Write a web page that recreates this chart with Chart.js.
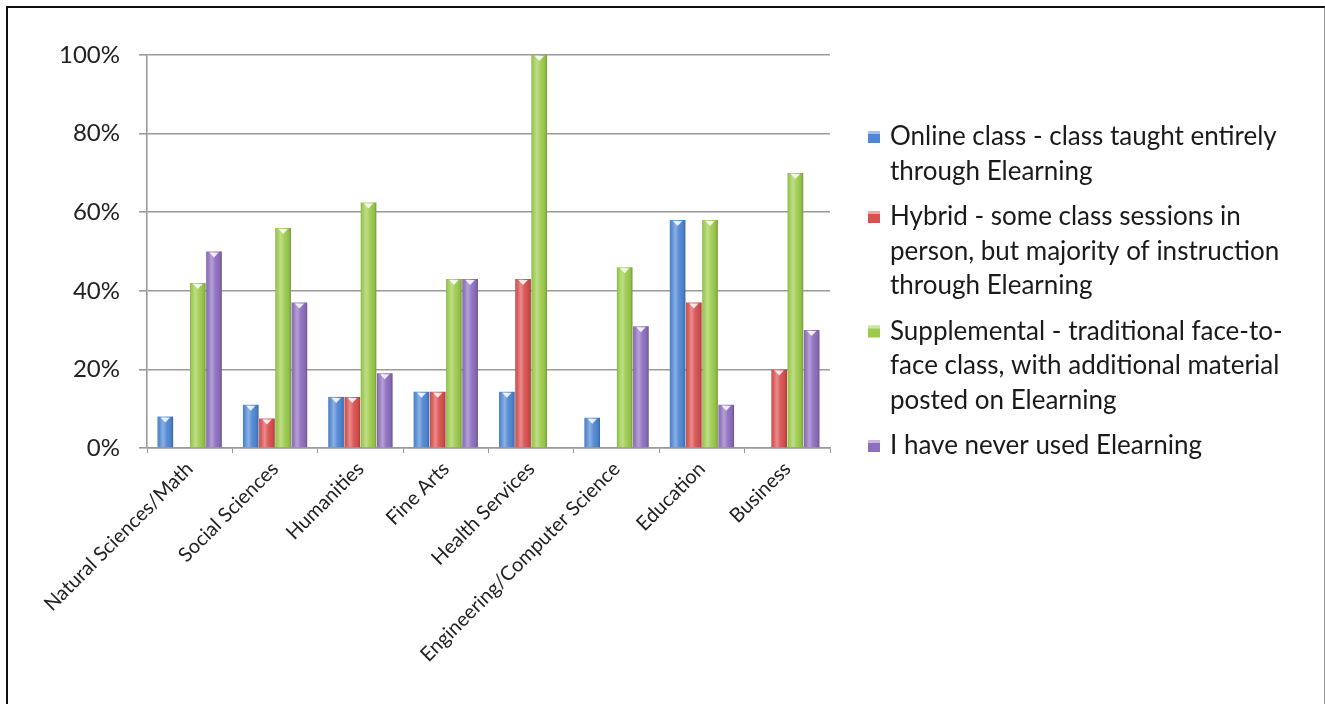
<!DOCTYPE html>
<html>
<head>
<meta charset="utf-8">
<script src="https://cdn.jsdelivr.net/npm/chart.js@4.4.1/dist/chart.umd.min.js"></script>
<style>
  html, body { margin: 0; padding: 0; background: #fff; overflow: hidden; }
  #frame {
    position: absolute; left: 6px; top: 6px; width: 1316px; height: 720px;
    border-left: 2px solid #111; border-top: 2px solid #111; border-right: 2px solid #999;
  }
  #wrap { position: absolute; left: 0; top: 0; width: 1325px; height: 704px; }
</style>
</head>
<body>
<div id="frame"></div>
<div id="wrap"><canvas id="chart"></canvas></div>
<script>
// categorias del eje x
const categories = ['Natural Sciences/Math', 'Social Sciences', 'Humanities', 'Fine Arts',
  'Health Services', 'Engineering/Computer Science', 'Education', 'Business'];

// porcentajes
const online = [8, 11, 13, 14.3, 14.3, 7.7, 58, 0];
const hybrid = [0, 7.5, 13, 14.3, 43, 0, 37, 20];
const supplemental = [42, 56, 62.5, 43, 100, 46, 58, 70];
const neverUsed = [50, 37, 19, 43, 0, 31, 11, 30];

// textos de la leyenda (ya partidos en lineas)
const legendOnline = ['Online class - class taught entirely', 'through Elearning'];
const legendHybrid = ['Hybrid - some class sessions in', 'person, but majority of instruction', 'through Elearning'];
const legendSupp = ['Supplemental - traditional face-to-', 'face class, with additional material', 'posted on Elearning'];
const legendNever = ['I have never used Elearning'];

const yTicks = [0, 20, 40, 60, 80, 100];

const FONT = 'Lato, "Open Sans", sans-serif';

// brillo tipo 3d encima de cada barra
const glossPlugin = {
  id: 'gloss',
  afterDatasetsDraw(chart) {
    const ctx = chart.ctx;
    chart.data.datasets.forEach((ds, i) => {
      const meta = chart.getDatasetMeta(i);
      meta.data.forEach(bar => {
        const h = bar.base - bar.y;
        if (h < 1) return;
        const left = bar.x - bar.width / 2;
        const g = ctx.createLinearGradient(left, 0, left + bar.width, 0);
        g.addColorStop(0, 'rgba(0,0,0,0.18)');
        g.addColorStop(0.12, 'rgba(255,255,255,0.05)');
        g.addColorStop(0.35, 'rgba(255,255,255,0.35)');
        g.addColorStop(0.6, 'rgba(255,255,255,0.05)');
        g.addColorStop(0.88, 'rgba(0,0,0,0.08)');
        g.addColorStop(1, 'rgba(0,0,0,0.25)');
        ctx.save();
        ctx.fillStyle = g;
        ctx.fillRect(left, bar.y, bar.width, h);
        // triangulito blanco arriba
        ctx.fillStyle = 'rgba(255,255,255,0.85)';
        ctx.beginPath();
        ctx.moveTo(bar.x - bar.width * 0.3, bar.y + 1);
        ctx.lineTo(bar.x + bar.width * 0.3, bar.y + 1);
        ctx.lineTo(bar.x, bar.y + Math.min(6, h));
        ctx.closePath();
        ctx.fill();
        ctx.restore();
      });
    });
  }
};

// leyenda a la derecha con texto en varias lineas
const sideLegend = {
  id: 'sideLegend',
  afterDraw(chart) {
    const ctx = chart.ctx;
    const items = [
      { color: '#4f87d4', lines: legendOnline },
      { color: '#d9504f', lines: legendHybrid },
      { color: '#9ccb4c', lines: legendSupp },
      { color: '#8e6fbf', lines: legendNever }
    ];
    let y = 137;
    ctx.save();
    ctx.font = '26px ' + FONT;
    ctx.textBaseline = 'middle';
    items.forEach(it => {
      ctx.fillStyle = it.color;
      ctx.fillRect(868, y - 6, 12, 12);
      ctx.fillStyle = 'rgba(255,255,255,0.5)';
      ctx.fillRect(868, y - 6, 12, 3);
      ctx.fillStyle = '#1a1a1a';
      it.lines.forEach((t, k) => {
        ctx.fillText(t, 890, y + k * 34.5);
      });
      y += it.lines.length * 34.5 + 11;
    });
    ctx.restore();
  }
};

const ctx = document.getElementById('chart').getContext('2d');
new Chart(ctx, {
  type: 'bar',
  data: {
    labels: categories,
    datasets: [
      { label: legendOnline.join(' '), data: online, backgroundColor: '#4f87d4' },
      { label: legendHybrid.join(' '), data: hybrid, backgroundColor: '#d9504f' },
      { label: legendSupp.join(' '), data: supplemental, backgroundColor: '#9ccb4c' },
      { label: legendNever.join(' '), data: neverUsed, backgroundColor: '#8e6fbf' }
    ]
  },
  options: {
    responsive: true,
    maintainAspectRatio: false,
    animation: false,
    layout: { padding: { top: 55, right: 495, left: 0, bottom: 0 } },
    datasets: { bar: { categoryPercentage: 0.76, barPercentage: 0.96 } },
    plugins: { legend: { display: false }, tooltip: { enabled: false } },
    scales: {
      y: {
        min: 0, max: 100,
        afterBuildTicks: axis => { axis.ticks = yTicks.map(v => ({ value: v })); },
        afterFit: axis => { axis.width = 147; },
        ticks: { color: '#222', font: { size: 24, family: FONT }, padding: 19, callback: v => v + '%' },
        grid: { color: '#9a9a9a', lineWidth: 1.6, tickLength: 8 },
        border: { color: '#9a9a9a', width: 1.6 }
      },
      x: {
        afterFit: axis => { axis.height = 256; },
        ticks: { color: '#222', font: { size: 20, family: FONT }, minRotation: 45, maxRotation: 45, padding: 4 },
        grid: { drawOnChartArea: false, color: '#9a9a9a', tickLength: 5 },
        border: { color: '#9a9a9a', width: 1.6 }
      }
    }
  },
  plugins: [glossPlugin, sideLegend]
});
</script>
</body>
</html>
